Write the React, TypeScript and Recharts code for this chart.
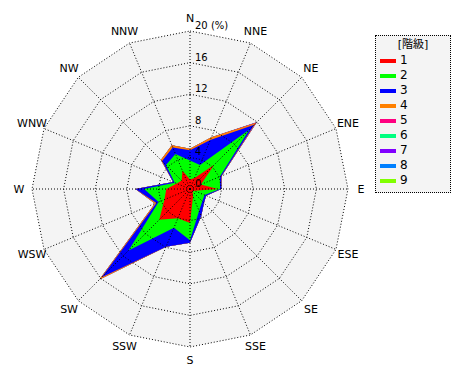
import { RadarChart, Radar, PolarGrid, PolarAngleAxis, PolarRadiusAxis } from 'recharts';

const directions = ['N', 'NNE', 'NE', 'ENE', 'E', 'ESE', 'SE', 'SSE', 'S', 'SSW', 'SW', 'WSW', 'W', 'WNW', 'NW', 'NNW'];

// frequency (%) per class, one value per direction
const class1 = [1.2, 1.5, 4.3, 1.5, 3.5, 0.6, 0.5, 1.0, 4.3, 4.0, 5.5, 3.5, 3.0, 1.8, 1.5, 2.5];
const class2 = [2.4, 1.8, 6.3, 2.6, 0.3, 1.4, 1.7, 2.0, 2.2, 1.3, 5.5, 0.8, 2.8, 0.3, 2.8, 2.3];
const class3 = [1.3, 3.4, 0.9, 0.2, 0.15, 0.2, 0.3, 0.7, 0.3, 2.6, 4.8, 0.3, 1.1, 0.2, 0.7, 0.9];
const class4 = [0.2, 0.4, 0.3, 0.05, 0, 0, 0, 0, 0, 0, 0.4, 0.2, 0, 0, 0.2, 0.3];
const class5 = [0, 0, 0.15, 0, 0, 0, 0, 0, 0, 0, 0, 0, 0, 0, 0, 0];
const class6 = [0, 0, 0, 0, 0, 0, 0, 0, 0, 0, 0, 0, 0, 0, 0, 0];
const class7 = [0, 0, 0, 0, 0, 0, 0, 0, 0, 0, 0, 0, 0, 0, 0, 0];
const class8 = [0, 0, 0, 0, 0, 0, 0, 0, 0, 0, 0, 0, 0, 0, 0, 0];
const class9 = [0, 0, 0, 0, 0, 0, 0, 0, 0, 0, 0, 0, 0, 0, 0, 0];

const classLabels = ['1', '2', '3', '4', '5', '6', '7', '8', '9'];
const classColors = ['#ff0000', '#00ff00', '#0000ff', '#ff8000', '#ff0080', '#00ff80', '#8000ff', '#0080ff', '#80ff00'];
const radiusTicks = [0, 4, 8, 12, 16, 20];

const classes = [class1, class2, class3, class4, class5, class6, class7, class8, class9];

// stacked: c1 = class1, c2 = class1 + class2, ...
const data = directions.map((dir, i) => {
  const row: Record<string, number | string> = { dir, bg: 20 };
  let sum = 0;
  classes.forEach((arr, k) => {
    sum += arr[i];
    row[`c${k + 1}`] = sum;
  });
  return row;
});

const W = 462;
const H = 372;
const CX = 182;
const CY = 181;
const R = 158;
const FONT = '"DejaVu Sans", "Noto Sans CJK JP", sans-serif';

function AngleTick(props: any) {
  const a = (props.payload.coordinate * Math.PI) / 180;
  const r = R + 13;
  const x = CX + r * Math.cos(a);
  const y = CY - r * Math.sin(a);
  return (
    <text x={x} y={y} textAnchor="middle" dominantBaseline="central" fontSize={11} fontFamily={FONT} fill="#000">
      {props.payload.value}
    </text>
  );
}

function RadiusTick(props: any) {
  const v = props.payload.value;
  return (
    <text x={props.x + 5} y={props.y - 2} fontSize={10} fontFamily={FONT} fill="#000">
      {v === 20 ? '20 (%)' : v}
    </text>
  );
}

const chartProps = {
  width: W,
  height: H,
  data,
  cx: CX,
  cy: CY,
  outerRadius: R,
  margin: { top: 0, right: 0, bottom: 0, left: 0 },
};

export default function App() {
  return (
    <div style={{ position: 'relative', width: W, height: H }}>
      {/* filled areas */}
      <RadarChart {...chartProps}>
        <PolarAngleAxis dataKey="dir" axisLine={false} tickLine={false} tick={false} />
        <PolarRadiusAxis angle={90} domain={[0, 20]} tickCount={6} axisLine={false} tickLine={false} tick={false} />
        <Radar dataKey="bg" fill="#f4f4f4" fillOpacity={1} stroke="none" isAnimationActive={false} />
        {classes
          .map((_, k) => k)
          .reverse()
          .map((k) => (
            <Radar
              key={k}
              dataKey={`c${k + 1}`}
              fill={classColors[k]}
              fillOpacity={1}
              stroke="none"
              isAnimationActive={false}
            />
          ))}
      </RadarChart>
      {/* dotted grid and labels drawn over the areas */}
      <div style={{ position: 'absolute', left: 0, top: 0 }}>
        <RadarChart {...chartProps}>
          <PolarGrid stroke="#000" strokeDasharray="1 2" />
          <PolarAngleAxis dataKey="dir" axisLine={false} tickLine={false} tick={<AngleTick />} />
          <PolarRadiusAxis
            angle={90}
            domain={[0, 20]}
            tickCount={6}
            ticks={radiusTicks as any}
            axisLine={false}
            tickLine={false}
            tick={<RadiusTick />}
          />
          <Radar dataKey="bg" fill="none" stroke="none" isAnimationActive={false} />
        </RadarChart>
      </div>
      <div
        style={{
          position: 'absolute',
          left: 367,
          top: 27,
          width: 74,
          height: 156,
          border: '1px dotted #000',
          background: '#f4f4f4',
          fontFamily: FONT,
          fontSize: 11,
          lineHeight: '13px',
        }}
      >
        <div style={{ position: 'absolute', top: 2, left: 0, width: 74, textAlign: 'center' }}>[階級]</div>
        {classLabels.map((label, i) => (
          <div
            key={label}
            style={{ position: 'absolute', left: 4, top: 18 + i * 15, height: 13, display: 'flex', alignItems: 'center' }}
          >
            <span style={{ display: 'inline-block', width: 16, height: 4, background: classColors[i], marginRight: 4 }} />
            <span style={{ fontSize: 12 }}>{label}</span>
          </div>
        ))}
      </div>
    </div>
  );
}
